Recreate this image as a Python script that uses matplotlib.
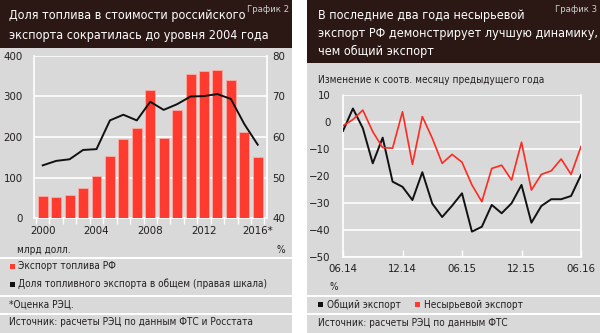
import numpy as np
import matplotlib
matplotlib.use('Agg')
import matplotlib.pyplot as plt
from matplotlib import font_manager
from matplotlib.patches import Rectangle

# узкий шрифт, если он есть в системе
narrow = None
for f in font_manager.fontManager.ttflist:
    if f.style != 'normal' or f.weight not in (400, 'normal', 'regular'):
        continue
    if 'Narrow' in f.name or 'Condensed' in f.name or f.stretch in ('condensed', 'semi-condensed'):
        narrow = f
        break
if narrow is not None:
    plt.rcParams['font.family'] = [narrow.name, 'DejaVu Sans']
    plt.rcParams['font.stretch'] = narrow.stretch
else:
    plt.rcParams['font.family'] = ['Roboto', 'DejaVu Sans']

# График 2: экспорт топлива, млрд долл., и его доля в общем экспорте, %
years = ['2000', '2001', '2002', '2003', '2004', '2005', '2006', '2007', '2008',
         '2009', '2010', '2011', '2012', '2013', '2014', '2015', '2016*']
fuel_export = [55, 53, 57, 75, 103, 152, 195, 222, 316, 198, 266, 356, 362, 365, 341, 213, 150]
fuel_share = [53.0, 54.1, 54.5, 56.8, 57.0, 64.1, 65.5, 64.1, 68.7, 66.7, 68.1,
              70.0, 70.1, 70.6, 69.4, 63.2, 58.1]
year_ticks = ['2000', '2004', '2008', '2012', '2016*']

# График 3: изменение к соотв. месяцу предыдущего года, %
months = ['06.14', '07.14', '08.14', '09.14', '10.14', '11.14', '12.14', '01.15', '02.15',
          '03.15', '04.15', '05.15', '06.15', '07.15', '08.15', '09.15', '10.15', '11.15',
          '12.15', '01.16', '02.16', '03.16', '04.16', '05.16', '06.16']
total_export = [-3.3, 5.0, -2.3, -15.3, -5.8, -22.1, -24.0, -28.9, -18.6, -30.2, -35.2, -31.0,
                -26.4, -40.6, -38.8, -30.7, -33.8, -30.1, -23.3, -37.3, -31.1, -28.6, -28.6,
                -27.4, -19.6]
nonraw_export = [-1.4, 0.9, 4.4, -3.6, -9.5, -9.7, 3.8, -15.7, 2.0, -6.0, -15.3, -12.0,
                 -14.9, -23.3, -29.5, -17.2, -16.0, -21.5, -7.5, -25.2, -19.4, -18.1, -13.7,
                 -19.4, -9.1]
month_ticks = ['06.14', '12.14', '06.15', '12.15', '06.16']

W, H = 600, 333
BG = '#d9d9d9'
HEAD = '#2b1713'
RED = '#ff3b30'
TXT = '#231f20'

fig = plt.figure(figsize=(W / 100, H / 100), dpi=100)
renderer = fig.canvas.get_renderer()


def fit(s, width_px):
    # кегль, при котором строка занимает нужную ширину
    t = fig.text(0, 0, s, fontsize=10)
    w = t.get_window_extent(renderer).width
    t.remove()
    return 10 * width_px / w


FS_TITLE = min(fit('Доля топлива в стоимости российского', 236), 11.5)
FS_SMALL = min(fit('Источник: расчеты РЭЦ по данным ФТС и Росстата', 242), 9)
FS_TICK = min(fit('2000', 26), 10)
FS_TAG = min(fit('График 2', 42), 8)


def box(x0, y0, x1, y1):
    return [x0 / W, 1 - y1 / H, (x1 - x0) / W, (y1 - y0) / H]


def rect(x0, y0, x1, y1, color):
    fig.add_artist(Rectangle((x0 / W, 1 - y1 / H), (x1 - x0) / W, (y1 - y0) / H,
                             transform=fig.transFigure, color=color, lw=0, zorder=0))


def txt(x, y, s, **kw):
    kw.setdefault('color', TXT)
    kw.setdefault('fontsize', FS_SMALL)
    fig.text(x / W, 1 - y / H, s, va='center', **kw)


# фон панелей, шапки и разделители
rect(0, 0, 292, H, BG)
rect(307, 0, W, H, BG)
rect(0, 0, 292, 48, HEAD)
rect(307, 0, W, 63, HEAD)
for y in (258, 296, 314):
    rect(0, y - 1, 292, y + 1, 'white')
for y in (296, 314):
    rect(307, y - 1, W, y + 1, 'white')

# заголовки
txt(9, 15, 'Доля топлива в стоимости российского', color='white', fontsize=FS_TITLE)
txt(9, 36, 'экспорта сократилась до уровня 2004 года', color='white', fontsize=FS_TITLE)
txt(289, 9, 'График 2', color='#cfcfcf', fontsize=FS_TAG, ha='right')
txt(318, 15, 'В последние два года несырьевой', color='white', fontsize=FS_TITLE)
txt(318, 33, 'экспорт РФ демонстрирует лучшую динамику,', color='white', fontsize=FS_TITLE)
txt(318, 51, 'чем общий экспорт', color='white', fontsize=FS_TITLE)
txt(597, 9, 'График 3', color='#cfcfcf', fontsize=FS_TAG, ha='right')

# --- левый график ---
x = np.arange(len(years))
ax1 = fig.add_axes(box(34, 56, 267, 218))
ax1.set_facecolor('none')
ax1.bar(x, fuel_export, width=0.74, color=RED, edgecolor='#ffb3ab', linewidth=0.5, zorder=3)
ax1.set_xlim(-0.65, 16.69)
ax1.set_ylim(0, 400)
ax1.set_yticks([0, 100, 200, 300, 400])
ax1.yaxis.grid(True, color='white', lw=1.2, zorder=0)
ax1.set_axisbelow(True)
ax1.set_xticks([0, 4, 8, 12, 16])
ax1.set_xticklabels(year_ticks)
ax1.set_xticks(np.arange(-0.5, 17, 1), minor=True)
ax1.tick_params(axis='x', which='major', length=0, labelsize=FS_TICK, colors=TXT, pad=6)
ax1.tick_params(axis='x', which='minor', length=4, color='white', width=1, direction='out')
ax1.tick_params(axis='y', length=0, labelsize=FS_TICK, colors=TXT, pad=8)
for s in ('left', 'right', 'bottom'):
    ax1.spines[s].set_color('white')
    ax1.spines[s].set_linewidth(1.2)
ax1.spines['top'].set_visible(False)

ax2 = ax1.twinx()
ax2.plot(x, fuel_share, color='#111111', lw=1.4, zorder=4)
ax2.set_ylim(40, 80)
ax2.set_yticks([40, 50, 60, 70, 80])
ax2.tick_params(axis='y', length=0, labelsize=FS_TICK, colors=TXT, pad=4)
for s in ax2.spines.values():
    s.set_visible(False)

txt(17, 250, 'млрд долл.')
txt(285, 250, '%', ha='right')
rect(10, 264, 15, 269, RED)
txt(18, 266, 'Экспорт топлива РФ')
rect(10, 282, 15, 287, '#111111')
txt(18, 284, 'Доля топливного экспорта в общем (правая шкала)')
txt(9, 304, '*Оценка РЭЦ.')
txt(9, 322, 'Источник: расчеты РЭЦ по данным ФТС и Росстата')

# --- правый график ---
m = np.arange(len(months))
ax3 = fig.add_axes(box(343, 95, 581, 257))
ax3.set_facecolor('none')
ax3.plot(m, total_export, color='#111111', lw=1.4, zorder=3)
ax3.plot(m, nonraw_export, color='#ff2a20', lw=1.2, zorder=3)
ax3.set_xlim(0, 24)
ax3.set_ylim(-50, 10)
ax3.set_yticks(np.arange(-50, 11, 10))
ax3.yaxis.grid(True, color='white', lw=1.2, zorder=0)
ax3.set_axisbelow(True)
ax3.set_xticks([0, 6, 12, 18, 24])
ax3.set_xticklabels(month_ticks)
ax3.tick_params(axis='x', length=5, color='white', width=1, direction='in',
                labelsize=FS_TICK, labelcolor=TXT, pad=5)
ax3.tick_params(axis='y', length=0, labelsize=FS_TICK, colors=TXT, pad=9)
for s in ('left', 'right', 'bottom'):
    ax3.spines[s].set_color('white')
    ax3.spines[s].set_linewidth(1.2)
ax3.spines['top'].set_visible(False)

txt(318, 80, 'Изменение к соотв. месяцу предыдущего года')
txt(330, 287, '%')
rect(318, 302, 323, 307, '#111111')
txt(327, 305, 'Общий экспорт')
rect(415, 302, 420, 307, RED)
txt(424, 305, 'Несырьевой экспорт')
txt(318, 323, 'Источник: расчеты РЭЦ по данным ФТС')

fig.savefig('out.png', dpi=100)
